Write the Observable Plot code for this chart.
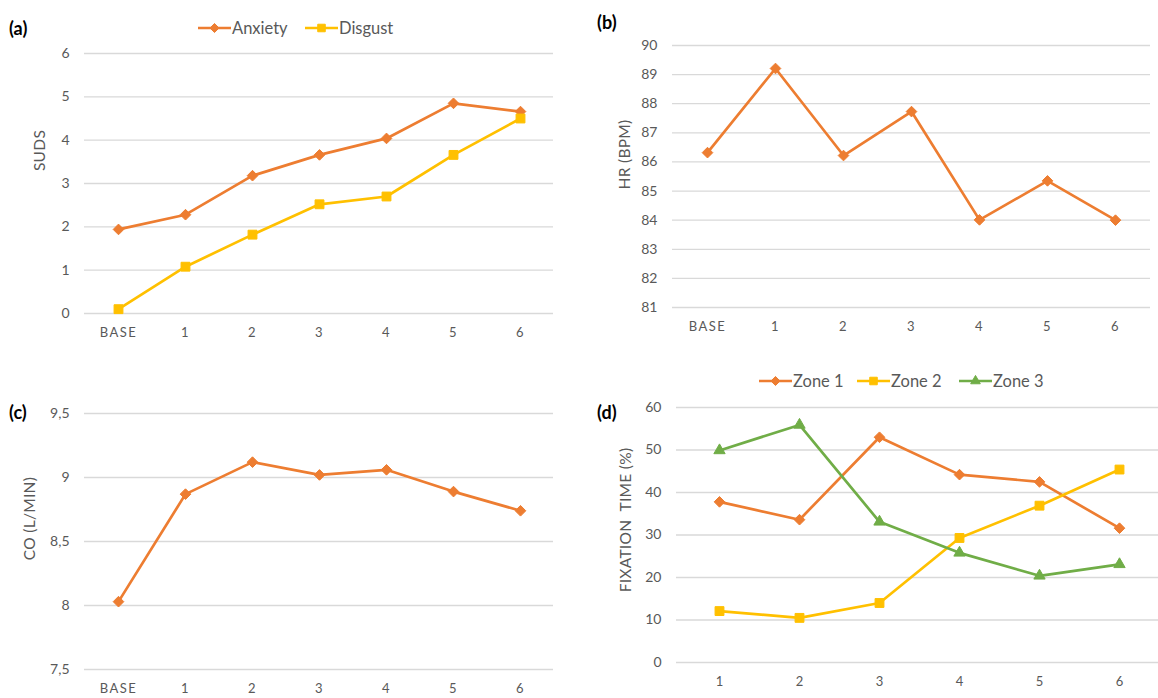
<!DOCTYPE html>
<html>
<head>
<meta charset="utf-8">
<script src="https://cdn.jsdelivr.net/npm/d3@7"></script>
<script src="https://cdn.jsdelivr.net/npm/@observablehq/plot@0.6"></script>
<style>
  html, body { margin: 0; padding: 0; background: #fff; overflow: hidden; }
  body { width: 1158px; height: 698px; position: relative; font-family: Lato, "Open Sans", sans-serif; }
  .panel { position: absolute; }
  .panel svg { max-width: none !important; display: block; }
  .tag { position: absolute; font-weight: bold; font-size: 18px; color: #000; line-height: 20px; }
  .item { position: absolute; display: flex; align-items: center; font-size: 16.5px; color: #595959; line-height: 20px; white-space: nowrap; }
  .item svg { display: block; margin-right: 1px; }
  .spaced g[aria-label="x-axis tick label"] text { letter-spacing: 1.5px; }
  .ytitle { white-space: pre; letter-spacing: 0.3px; }
</style>
</head>
<body>
<script>
// ---------- data ----------
const stages = ["BASE", "1", "2", "3", "4", "5", "6"];
const anxiety = [1.94, 2.28, 3.18, 3.66, 4.04, 4.85, 4.66];
const disgust = [0.10, 1.08, 1.82, 2.52, 2.70, 3.66, 4.50];
const hr = [86.32, 89.21, 86.22, 87.73, 84.01, 85.35, 84.00];
const co = [8.03, 8.87, 9.12, 9.02, 9.06, 8.89, 8.74];
const zones = ["1", "2", "3", "4", "5", "6"];
const zone1 = [37.8, 33.6, 53.0, 44.2, 42.5, 31.6];
const zone2 = [12.1, 10.5, 14.0, 29.3, 36.9, 45.4];
const zone3 = [49.9, 55.9, 33.1, 25.8, 20.4, 23.1];
const ticksA = [0, 1, 2, 3, 4, 5, 6];
const ticksB = [81, 82, 83, 84, 85, 86, 87, 88, 89, 90];
const ticksC = [7.5, 8, 8.5, 9, 9.5];
const ticksD = [0, 10, 20, 30, 40, 50, 60];

const ORANGE = "#ED7D31", YELLOW = "#FFC000", GREEN = "#70AD47";
const SYM = {diamond2: 4.8, square: 5.0, triangle: 4.2};

function panel(cfg) {
  const marks = [
    Plot.gridY(cfg.ticks, {stroke: "#d9d9d9", strokeOpacity: 1, strokeWidth: 1.3}),
    Plot.axisY(cfg.ticks, {tickSize: 0, tickPadding: 15, fontSize: 14, label: null,
      tickFormat: cfg.fmt || (d => String(d))}),
    Plot.axisX(cfg.cats, {tickSize: 0, tickPadding: 14, fontSize: 13, label: null})
  ];
  for (const s of cfg.series) {
    const data = cfg.cats.map((c, i) => ({x: c, y: s.values[i]}));
    marks.push(Plot.line(data, {x: "x", y: "y", stroke: s.color, strokeWidth: 2.7}));
    marks.push(Plot.dot(data, {x: "x", y: "y", symbol: s.symbol, fill: s.color, stroke: s.color,
      strokeWidth: 1, r: SYM[s.symbol]}));
  }
  marks.push(Plot.text([cfg.label], {text: d => d, frameAnchor: "left", textAnchor: "middle",
    dx: cfg.ldx, dy: cfg.ldy, rotate: -90, fontSize: 15.5, fill: "#595959", className: "ytitle"}));
  const svg = Plot.plot({
    width: cfg.w, height: cfg.h,
    marginLeft: cfg.ml, marginRight: cfg.mr, marginTop: cfg.mt, marginBottom: cfg.mb,
    style: {fontFamily: "Lato, 'Open Sans', sans-serif", color: "#595959", background: "transparent", overflow: "visible"},
    x: {type: "point", domain: cfg.cats, padding: 0.5, axis: null},
    y: {domain: cfg.domain, axis: null},
    marks
  });
  const wrap = document.createElement("div");
  wrap.className = "panel" + (cfg.spaced ? " spaced" : "");
  wrap.style.left = cfg.left + "px";
  wrap.style.top = cfg.top + "px";
  wrap.style.width = cfg.w + "px";
  wrap.style.height = cfg.h + "px";
  wrap.appendChild(svg);
  document.body.appendChild(wrap);
}

function tag(text, x, y) {
  const d = document.createElement("div");
  d.className = "tag"; d.textContent = text;
  d.style.left = x + "px"; d.style.top = y + "px";
  document.body.appendChild(d);
}

function legendItem(it, x, y) {
  const item = document.createElement("div");
  item.className = "item";
  item.style.left = x + "px"; item.style.top = (y - 10) + "px";
  const sw = d3.create("svg").attr("width", 33).attr("height", 14);
  sw.append("line").attr("x1", 0).attr("x2", 33).attr("y1", 7).attr("y2", 7)
    .attr("stroke", it.color).attr("stroke-width", 2.7);
  const typ = {diamond2: d3.symbolDiamond2, square: d3.symbolSquare, triangle: d3.symbolTriangle}[it.symbol];
  const size = Math.PI * Math.pow(SYM[it.symbol] * 0.85, 2);
  sw.append("path").attr("d", d3.symbol(typ, size)()).attr("transform", "translate(16.5,7)")
    .attr("fill", it.color).attr("stroke", it.color);
  item.appendChild(sw.node());
  const t = document.createElement("span");
  t.textContent = it.name;
  item.appendChild(t);
  document.body.appendChild(item);
}

// (a) SUDS
panel({left: 0, top: 35, w: 570, h: 315, ml: 84, mr: 17, mt: 18, mb: 37,
  cats: stages, domain: [0, 6], ticks: ticksA, label: "SUDS", ldx: -44, ldy: -33, spaced: true,
  series: [
    {values: anxiety, color: ORANGE, symbol: "diamond2"},
    {values: disgust, color: YELLOW, symbol: "square"}
  ]});
// (b) HR
panel({left: 580, top: 35, w: 590, h: 315, ml: 92, mr: 20, mt: 10, mb: 43,
  cats: stages, domain: [81, 90], ticks: ticksB, label: "HR (BPM)", ldx: -47, ldy: -22, spaced: true,
  series: [{values: hr, color: ORANGE, symbol: "diamond2"}]});
// (c) CO
panel({left: 0, top: 395, w: 570, h: 303, ml: 84, mr: 17, mt: 18, mb: 29,
  cats: stages, domain: [7.5, 9.5], ticks: ticksC, fmt: d => String(d).replace(".", ","),
  label: "CO (L/MIN)", ldx: -54, ldy: -23, spaced: true,
  series: [{values: co, color: ORANGE, symbol: "diamond2"}]});
// (d) Fixation time
panel({left: 580, top: 395, w: 590, h: 303, ml: 96, mr: 9, mt: 12, mb: 36,
  cats: zones, domain: [0, 60], ticks: ticksD, label: "FIXATION  TIME (%)", ldx: -50, ldy: -15,
  series: [
    {values: zone1, color: ORANGE, symbol: "diamond2"},
    {values: zone2, color: YELLOW, symbol: "square"},
    {values: zone3, color: GREEN, symbol: "triangle"}
  ]});

tag("(a)", 9, 18);
tag("(b)", 597, 12);
tag("(c)", 9, 402);
tag("(d)", 597, 402);

legendItem({name: "Anxiety", color: ORANGE, symbol: "diamond2"}, 198, 28);
legendItem({name: "Disgust", color: YELLOW, symbol: "square"}, 305, 28);
legendItem({name: "Zone 1", color: ORANGE, symbol: "diamond2"}, 759, 381);
legendItem({name: "Zone 2", color: YELLOW, symbol: "square"}, 857, 381);
legendItem({name: "Zone 3", color: GREEN, symbol: "triangle"}, 959, 381);
</script>
</body>
</html>
